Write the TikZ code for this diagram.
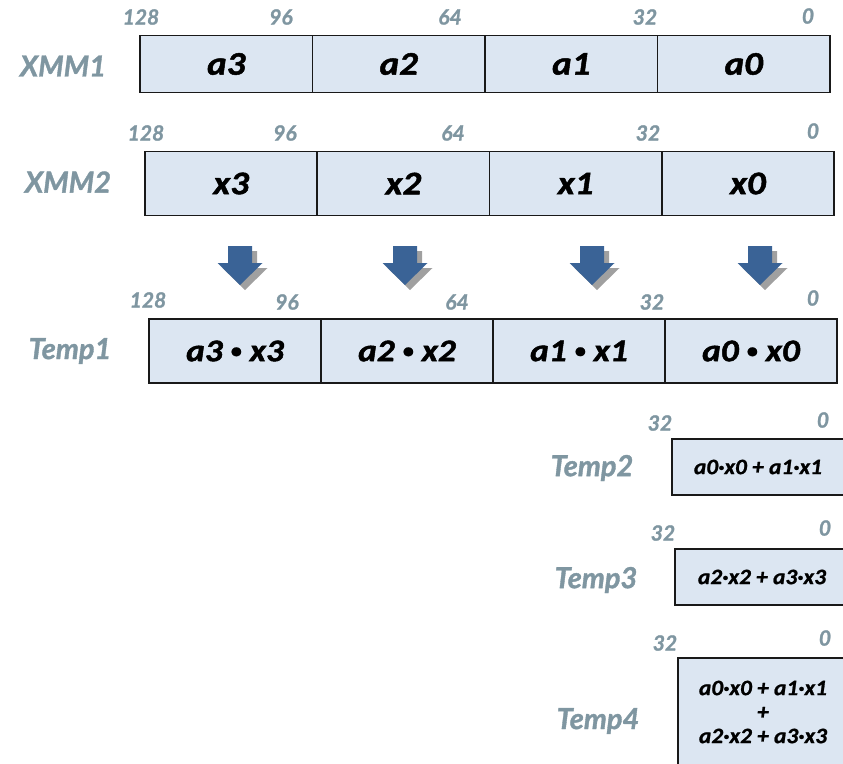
\documentclass[tikz,border=0pt]{standalone}
\usepackage{fontspec}
\setmainfont{Lato}[BoldItalicFeatures={FakeBold=1.2}]
\newfontfamily\cellfont{Carlito}[FakeStretch=1.12, BoldItalicFeatures={FakeBold=1.5}]
\newfontfamily\sumfont{Carlito}[FakeStretch=1.06, BoldItalicFeatures={FakeBold=1}]

\definecolor{cellfill}{RGB}{220,230,242}
\definecolor{bitcol}{RGB}{127,150,161}
\definecolor{arrowblue}{RGB}{58,99,150}
\definecolor{shadowgray}{RGB}{160,160,160}

\tikzset{
  cell/.style={draw=black!90, line width=1.7pt, fill=cellfill, inner sep=0pt,
    font=\cellfont\fontsize{33}{36}\selectfont\bfseries\itshape},
  prodcell/.style={cell, font=\cellfont\fontsize{31.5}{34}\selectfont\bfseries\itshape},
  sumcell/.style={draw=black!90, line width=1.7pt, fill=cellfill, inner sep=0pt,
    align=center, font=\sumfont\fontsize{22}{24}\selectfont\bfseries\itshape},
  reglabel/.style={text=bitcol, inner sep=0pt, font=\fontsize{29}{32}\selectfont\bfseries\itshape},
  bitnum/.style={text=bitcol, inner sep=0pt, font=\fontsize{21}{24}\selectfont\bfseries\itshape},
}
\newcommand{\mulbullet}{\raisebox{3.5pt}{\sumfont\fontsize{21}{21}\selectfont\bfseries\textbullet}}

\begin{document}
\begin{tikzpicture}[x=1pt, y=-1pt]
\useasboundingbox (0,0) rectangle (843,763);
\clip (0,0) rectangle (843,763);

% ---------- XMM1 ----------
\node[reglabel] (l1) at (63,66) {XMM1};
\foreach \n/\cx/\t in {3/226.25/a3, 2/398.75/a2, 1/571.25/a1, 0/743.75/a0}
  \node[cell, minimum width=172.5pt, minimum height=57pt] (a\n) at (\cx,64) {\t};
\node[bitnum] (a128) at (141,17) {128};
\node[bitnum] (a96)  at (281,17) {96};
\node[bitnum] (a64)  at (450,17) {64};
\node[bitnum] (a32)  at (645,17) {32};
\node[bitnum] (a0n)  at (808,16) {0};

% ---------- XMM2 ----------
\node[reglabel] (l2) at (68,182) {XMM2};
\foreach \n/\cx/\t in {3/231.1/x3, 2/403.4/x2, 1/575.6/x1, 0/747.9/x0}
  \node[cell, minimum width=172.25pt, minimum height=64pt] (x\n) at (\cx,183.5) {\t};
\node[bitnum] (x128) at (146,133) {128};
\node[bitnum] (x96)  at (285,133) {96};
\node[bitnum] (x64)  at (453,133) {64};
\node[bitnum] (x32)  at (648,133) {32};
\node[bitnum] (x0n)  at (813,131) {0};

% ---------- multiply arrows (block arrows with offset shadow) ----------
\foreach \cx in {240, 405, 592, 760} {
  \fill[shadowgray, shift={(5,5)}]
    (\cx-12,246) -- (\cx+12,246) -- (\cx+12,263) -- (\cx+22.5,263) -- (\cx,285)
    -- (\cx-22.5,263) -- (\cx-12,263) -- cycle;
  \fill[arrowblue]
    (\cx-12,246) -- (\cx+12,246) -- (\cx+12,263) -- (\cx+22.5,263) -- (\cx,285)
    -- (\cx-22.5,263) -- (\cx-12,263) -- cycle;
}

% ---------- Temp1 ----------
\node[reglabel] (l3) at (70,351) {Temp1};
\foreach \n/\cx in {3/235, 2/407, 1/579, 0/751}
  \node[prodcell, minimum width=172pt, minimum height=64pt] (p\n) at (\cx,351)
    {a\n\ \mulbullet\ x\n};
\node[bitnum] (p128) at (148,300) {128};
\node[bitnum] (p96)  at (287,302) {96};
\node[bitnum] (p64)  at (457,302) {64};
\node[bitnum] (p32)  at (652,302) {32};
\node[bitnum] (p0n)  at (813,298) {0};

% ---------- Temp2 ----------
\node[reglabel] (l4) at (592,468) {Temp2};
\node[sumcell, minimum width=172pt, minimum height=56pt] (t2) at (758,467)
  {a0·x0 + a1·x1};
\node[bitnum] (t2a) at (660,423) {32};
\node[bitnum] (t2b) at (823,420) {0};

% ---------- Temp3 ----------
\node[reglabel] (l5) at (596,580) {Temp3};
\node[sumcell, minimum width=174pt, minimum height=56pt] (t3) at (762,577)
  {a2·x2 + a3·x3};
\node[bitnum] (t3a) at (663,533) {32};
\node[bitnum] (t3b) at (825,528) {0};

% ---------- Temp4 ----------
\node[reglabel] (l6) at (598,721) {Temp4};
\node[sumcell, minimum width=170pt, minimum height=108pt] (t4) at (763,712)
  {a0·x0 + a1·x1\\+\\a2·x2 + a3·x3};
\node[bitnum] (t4a) at (665,643) {32};
\node[bitnum] (t4b) at (825,638) {0};
\end{tikzpicture}
\end{document}
